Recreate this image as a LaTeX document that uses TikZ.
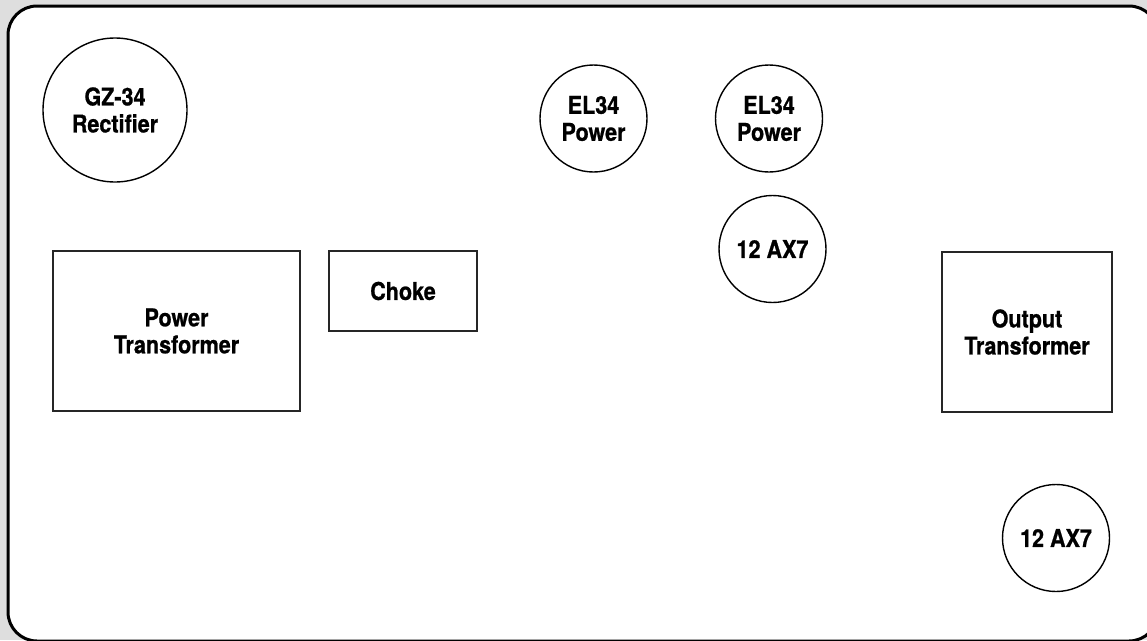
\documentclass[tikz,border=0pt]{standalone}
\usepackage{fontspec}
\setmainfont{TeX Gyre Heros}[FakeStretch=0.88, BoldFeatures={FakeBold=0.8}]
\begin{document}
\begin{tikzpicture}[x=1pt,y=-1pt,
  lbl/.style={font=\bfseries\fontsize{24.5}{27}\selectfont, align=center, inner sep=0pt},
  tube/.style={lbl, draw=black, line width=1.4pt, circle, minimum size=#1},
  part/.style={lbl, draw=black!85, line width=1.6pt, rectangle},
]
\definecolor{bgray}{RGB}{222,222,222}
\useasboundingbox (0,0) rectangle (1147,640);
\clip (0,0) rectangle (1147,640);
\fill[bgray] (0,0) rectangle (1147,640);
\draw[line width=3pt, fill=white, rounded corners=29pt] (8,6) rectangle (1158,641);

\node[tube=144pt] (gz) at (115,110) {GZ-34\\Rectifier};
\node[tube=107pt] (el1) at (593.5,118.5) {EL34\\Power};
\node[tube=107pt] (el2) at (769,118.5) {EL34\\Power};
\node[tube=107pt] (ax1) at (772.5,249) {12 AX7};
\node[tube=107pt] (ax2) at (1056,538) {12 AX7};

\node[part, minimum width=247pt, minimum height=160pt] (pt) at (176.5,331) {Power\\Transformer};
\node[part, minimum width=148pt, minimum height=80pt] (ch) at (403,291) {Choke};
\node[part, minimum width=170pt, minimum height=160pt] (ot) at (1027,332) {Output\\Transformer};
\end{tikzpicture}
\end{document}
